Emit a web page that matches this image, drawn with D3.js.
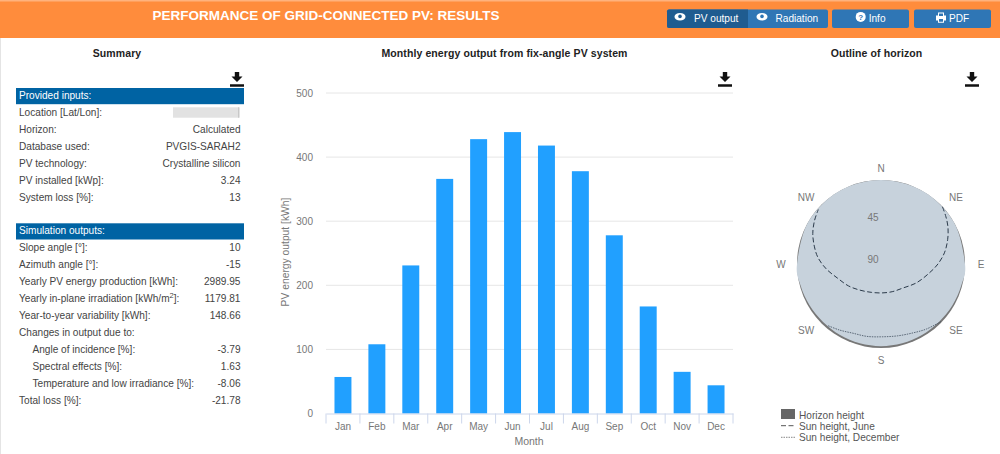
<!DOCTYPE html>
<html>
<head>
<meta charset="utf-8">
<script src="https://cdn.jsdelivr.net/npm/d3@7"></script>
<style>
html, body { margin: 0; padding: 0; background: #fff; overflow: hidden; }
svg { display: block; font-family: "Liberation Sans", Arial, sans-serif; }
</style>
</head>
<body>
<svg id="chart" width="1000" height="454"></svg>
<script>
// monthly output
const months = ['Jan', 'Feb', 'Mar', 'Apr', 'May', 'Jun', 'Jul', 'Aug', 'Sep', 'Oct', 'Nov', 'Dec']
const energy = [57, 108, 231, 366, 428, 439, 418, 378, 278, 167, 65, 44]
const energyTicks = [0, 100, 200, 300, 400, 500]

// summary tables
const inputRows = [
    ['Location [Lat/Lon]:', ''],
    ['Horizon:', 'Calculated'],
    ['Database used:', 'PVGIS-SARAH2'],
    ['PV technology:', 'Crystalline silicon'],
    ['PV installed [kWp]:', '3.24'],
    ['System loss [%]:', '13']
]
const outputRows = [
    ['Slope angle [°]:', '10', 0],
    ['Azimuth angle [°]:', '-15', 0],
    ['Yearly PV energy production [kWh]:', '2989.95', 0],
    ['Yearly in-plane irradiation [kWh/m^2]:', '1179.81', 0],
    ['Year-to-year variability [kWh]:', '148.66', 0],
    ['Changes in output due to:', '', 0],
    ['Angle of incidence [%]:', '-3.79', 1],
    ['Spectral effects [%]:', '1.63', 1],
    ['Temperature and low irradiance [%]:', '-8.06', 1],
    ['Total loss [%]:', '-21.78', 0]
]

// horizon chart, azimuth from north in degrees, heights in degrees
const horizonAz = [0, 30, 60, 90, 105, 120, 135, 150, 165, 180, 195, 210, 225, 240, 255, 270, 300, 330]
const horizonH = [0, 0, 0, 0, 1, 1.6, 2.2, 2.2, 2, 2, 2, 2.2, 2.2, 1.6, 0.8, 0, 0, 0]
const juneAz = [47, 54, 61, 70, 80, 90, 100, 118, 137, 158, 178, 198, 219, 236, 252, 265, 276, 285, 294, 303, 311]
const juneH = [0, 4, 8, 14, 21, 29, 37, 47, 55, 58, 59, 58, 54, 48, 41, 31, 22, 16, 10, 5, 1]
const decAz = [134, 145, 155, 167, 179, 191, 202, 212, 221]
const decH = [1, 5, 8.6, 11, 12, 11, 10, 6.5, 2.7]
const compass = [['N', 0], ['NE', 45], ['E', 90], ['SE', 135], ['S', 180], ['SW', 225], ['W', 270], ['NW', 315]]
const radialLabels = [45, 90]
const horizonLegend = ['Horizon height', 'Sun height, June', 'Sun height, December']

const svg = d3.select('#chart')
const blue = '#0063a3'
const iconPath = 'M-2.2 -7.5h4.4v4.5h3.3l-5.5 5.5l-5.5 -5.5h3.3zM-7 4.7h14v2.6h-14z'

// header
svg.append('rect').attr('width', 1000).attr('height', 38).attr('fill', '#ff8c3c')
svg.append('rect').attr('width', 1000).attr('height', 1.5).attr('fill', '#ffb27d')
svg.append('rect').attr('y', 38).attr('width', 1).attr('height', 416).attr('fill', '#e4e4e4')
svg.append('text').attr('x', 326).attr('y', 20).attr('text-anchor', 'middle')
    .attr('font-size', 13.5).attr('font-weight', 'bold').attr('fill', '#fff')
    .text('PERFORMANCE OF GRID-CONNECTED PV: RESULTS')

function drawEye(g, x, y, bg) {
    g.append('ellipse').attr('cx', x).attr('cy', y).attr('rx', 5.5).attr('ry', 3.8).attr('fill', '#fff')
    g.append('circle').attr('cx', x).attr('cy', y - 0.3).attr('r', 1.8).attr('fill', bg)
}
const header = svg.append('g').attr('font-size', 10.1).attr('fill', '#fff')
header.append('rect').attr('x', 667).attr('y', 9.5).attr('width', 161).attr('height', 18.5).attr('rx', 2).attr('fill', '#2f76b5')
header.append('path').attr('d', 'M669 9.5H748V28H669a2 2 0 0 1 -2 -2V11.5a2 2 0 0 1 2 -2z').attr('fill', '#1f5c90')
header.append('rect').attr('x', 832).attr('y', 9.5).attr('width', 77).attr('height', 18.5).attr('rx', 2).attr('fill', '#2f76b5')
header.append('rect').attr('x', 914).attr('y', 9.5).attr('width', 77).attr('height', 18.5).attr('rx', 2).attr('fill', '#2f76b5')
drawEye(header, 680, 16.7, '#1f5c90')
drawEye(header, 762, 16.7, '#2f76b5')
header.append('text').attr('x', 694).attr('y', 21.5).text('PV output')
header.append('text').attr('x', 775.5).attr('y', 21.5).text('Radiation')
header.append('circle').attr('cx', 860.7).attr('cy', 16.9).attr('r', 5).attr('fill', '#fff')
header.append('text').attr('x', 860.7).attr('y', 20).attr('text-anchor', 'middle').attr('font-size', 8).attr('font-weight', 'bold').attr('fill', '#2f76b5').text('?')
header.append('text').attr('x', 868.7).attr('y', 21.5).text('Info')
header.append('path').attr('d', 'M938 12.5h6v3h2v5h-2v2.2h-6v-2.2h-2v-5h2zM939 13.5v2.5h4v-2.5zM939 19v2.7h4v-2.7z').attr('fill', '#fff').attr('fill-rule', 'evenodd')
header.append('text').attr('x', 949).attr('y', 21.5).text('PDF')

// section titles and download icons
const titles = [['Summary', 117], ['Monthly energy output from fix-angle PV system', 504.5], ['Outline of horizon', 876.5]]
svg.selectAll('.title').data(titles).join('text').attr('class', 'title')
    .attr('x', d => d[1]).attr('y', 57).attr('text-anchor', 'middle')
    .attr('font-size', 10.5).attr('font-weight', 'bold').attr('fill', '#222').attr('letter-spacing', 0.1)
    .text(d => d[0])
svg.selectAll('.dl').data([237, 725, 972]).join('path').attr('class', 'dl')
    .attr('transform', d => `translate(${d},79.5)`).attr('d', iconPath).attr('fill', '#111')

// summary tables
function drawTable(title, rows, top) {
    svg.append('rect').attr('x', 16).attr('y', top).attr('width', 228).attr('height', 16.2).attr('fill', blue)
    svg.append('text').attr('x', 19).attr('y', top + 11).attr('font-size', 10.1).attr('fill', '#fff').text(title)
    rows.forEach((r, i) => {
        const y = top + 27.8 + i * 16.95
        const label = svg.append('text').attr('x', r[2] ? 32.5 : 19).attr('y', y).attr('font-size', 10.1).attr('fill', '#444')
        const parts = r[0].split('^')
        if (parts.length > 1) {
            // superscript in kWh/m2
            label.append('tspan').text(parts[0])
            label.append('tspan').attr('dy', -3.5).attr('font-size', 7.5).text(parts[1][0])
            label.append('tspan').attr('dy', 3.5).text(parts[1].slice(1))
        } else {
            label.text(r[0])
        }
        svg.append('text').attr('x', 240.5).attr('y', y).attr('text-anchor', 'end').attr('font-size', 10.1).attr('fill', '#444').text(r[1])
    })
}
drawTable('Provided inputs:', inputRows, 88)
svg.append('rect').attr('x', 173).attr('y', 107.3).attr('width', 66).attr('height', 10.4).attr('fill', '#e2e2e2')
svg.append('rect').attr('x', 238).attr('y', 107.3).attr('width', 1.5).attr('height', 10.4).attr('fill', '#c8c8c8')
drawTable('Simulation outputs:', outputRows, 223.3)

// bar chart
const x = d3.scaleBand().domain(months).range([326, 733]).paddingInner(0.5).paddingOuter(0.25)
const y = d3.scaleLinear().domain([0, 500]).range([413.5, 93])

svg.append('g').selectAll('line').data(energyTicks.slice(1)).join('line')
    .attr('x1', 326).attr('x2', 733).attr('y1', d => y(d)).attr('y2', d => y(d))
    .attr('stroke', '#e6e6e6')

svg.append('g').selectAll('rect').data(months).join('rect')
    .attr('x', d => x(d)).attr('width', x.bandwidth())
    .attr('y', (d, i) => y(energy[i])).attr('height', (d, i) => y(0) - y(energy[i]))
    .attr('fill', '#21a0ff')

const xBand = d3.scaleBand().domain(months).range([326, 733])
const xAxis = svg.append('g').attr('transform', 'translate(0,413.5)').call(d3.axisBottom(xBand).tickSize(0).tickPadding(9))
xAxis.select('.domain').attr('stroke', '#ccd6eb')
xAxis.selectAll('text').attr('font-size', 10).attr('fill', '#777').attr('font-family', 'inherit')
svg.append('g').selectAll('line').data(months.concat('end')).join('line')
    .attr('x1', (d, i) => 326 + i * xBand.step()).attr('x2', (d, i) => 326 + i * xBand.step())
    .attr('y1', 413.5).attr('y2', 423.5).attr('stroke', '#ccd6eb')

const yAxis = svg.append('g').attr('transform', 'translate(326,0)').call(d3.axisLeft(y).tickValues(energyTicks).tickSize(0).tickPadding(13))
yAxis.select('.domain').remove()
yAxis.selectAll('text').attr('font-size', 10).attr('fill', '#777').attr('font-family', 'inherit')

svg.append('text').attr('x', 529).attr('y', 445).attr('text-anchor', 'middle').attr('font-size', 10.5).attr('fill', '#777').text('Month')
svg.append('text').attr('transform', 'translate(289,252) rotate(-90)').attr('text-anchor', 'middle').attr('font-size', 10.3).attr('fill', '#777').text('PV energy output [kWh]')

// horizon polar chart
const cx = 881, cy = 264
const r = d3.scaleLinear().domain([90, 0]).range([0, 84])
const polar = svg.append('g').attr('transform', `translate(${cx},${cy})`)
const rad = a => a * Math.PI / 180

polar.append('circle').attr('r', r(0)).attr('fill', '#777')
polar.append('path')
    .attr('d', d3.lineRadial().angle((d, i) => rad(d)).radius((d, i) => r(horizonH[i])).curve(d3.curveCardinalClosed)(horizonAz))
    .attr('fill', '#c7d2dc')
polar.append('path')
    .attr('d', d3.lineRadial().angle(d => rad(d)).radius((d, i) => r(juneH[i])).curve(d3.curveCatmullRom)(juneAz))
    .attr('fill', 'none').attr('stroke', '#2b3a4a').attr('stroke-width', 1).attr('stroke-dasharray', '5,2.5')
polar.append('path')
    .attr('d', d3.lineRadial().angle(d => rad(d)).radius((d, i) => r(decH[i])).curve(d3.curveCatmullRom)(decAz))
    .attr('fill', 'none').attr('stroke', '#2b3a4a').attr('stroke-width', 0.7).attr('stroke-dasharray', '1.5,1')

polar.selectAll('.rl').data(radialLabels).join('text').attr('class', 'rl')
    .attr('x', -8).attr('y', d => -r(d) - 0.7).attr('text-anchor', 'middle').attr('font-size', 10).attr('fill', '#777').text(d => d)
polar.selectAll('.cp').data(compass).join('text').attr('class', 'cp')
    .attr('x', d => 100 * Math.sin(rad(d[1])) * (d[1] % 90 ? 1.06 : 1))
    .attr('y', d => -96 * Math.cos(rad(d[1])) * (d[1] % 90 ? 0.98 : 1) + 3.5)
    .attr('text-anchor', 'middle').attr('font-size', 10).attr('fill', '#777').text(d => d[0])

// legend
const legend = svg.append('g').attr('font-size', 10.1).attr('fill', '#555')
legend.selectAll('text').data(horizonLegend).join('text').attr('x', 799).attr('y', (d, i) => 418.5 + i * 11).text(d => d)
legend.append('rect').attr('x', 781).attr('y', 409).attr('width', 14).attr('height', 10).attr('fill', '#666')
legend.append('line').attr('x1', 781).attr('x2', 795).attr('y1', 425.7).attr('y2', 425.7).attr('stroke', '#555').attr('stroke-dasharray', '5,2.5')
legend.append('line').attr('x1', 781).attr('x2', 795).attr('y1', 437.3).attr('y2', 437.3).attr('stroke', '#555').attr('stroke-width', 0.7).attr('stroke-dasharray', '1.5,1')
</script>
</body>
</html>
